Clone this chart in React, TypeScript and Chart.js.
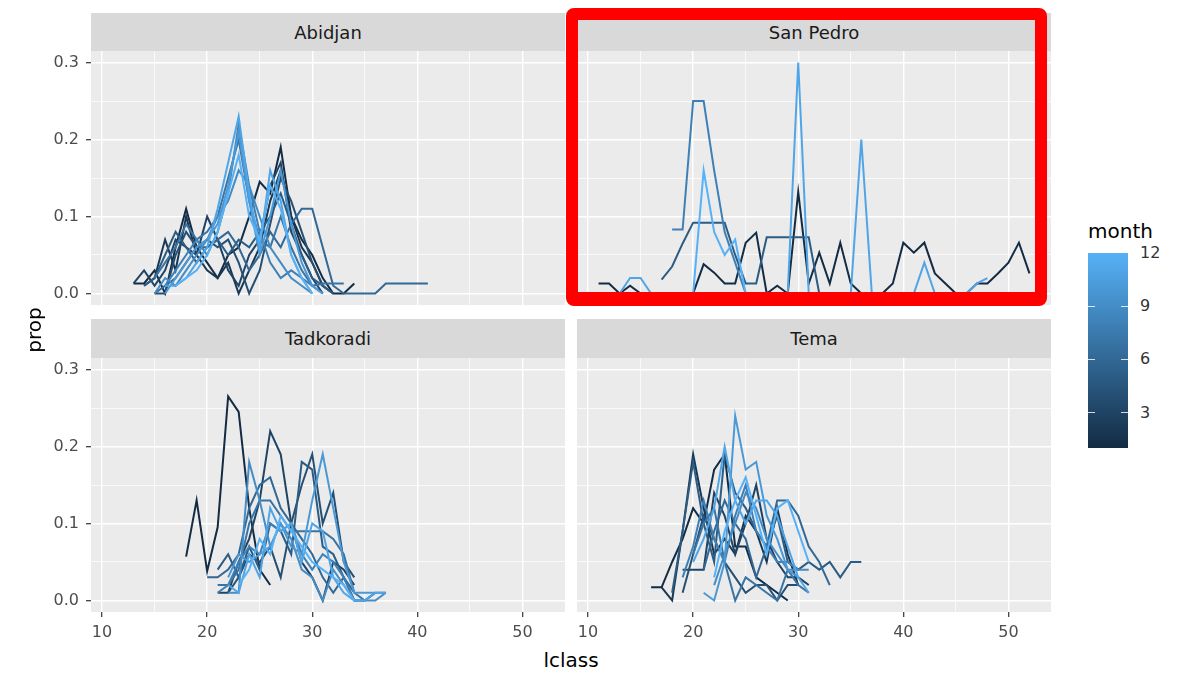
import React, { useEffect, useRef } from "react";
import { Chart, registerables } from "chart.js";

Chart.register(...registerables);

const FONT = "'DejaVu Sans', 'Liberation Sans', sans-serif";

// ---------- data ----------
const xGridValues = [10, 15, 20, 25, 30, 35, 40, 45, 50];
const yGridValues = [0, 0.05, 0.1, 0.15, 0.2, 0.25, 0.3];
const monthBreaks = [3, 6, 9, 12];
const monthRange = [1, 12];

const abidjanMonths = [1, 2, 3, 4, 5, 6, 7, 8, 9, 10, 11, 12];
const abidjanStart = [13, 14, 13, 15, 14, 15, 15, 16, 15, 16, 16, 17];
const abidjanProp = [
  [0.013, 0.013, 0.03, 0, 0.06, 0.11, 0.06, 0.04, 0.02, 0.05, 0.06, 0.1, 0.145, 0.13, 0.19, 0.1, 0.07, 0.05, 0.02, 0, 0, 0.013],
  [0.01, 0.02, 0.07, 0.03, 0.1, 0.05, 0.03, 0.02, 0.04, 0, 0.03, 0.06, 0.12, 0.16, 0.1, 0.06, 0.04, 0.01, 0],
  [0.013, 0.03, 0.01, 0.03, 0.07, 0.06, 0.05, 0.1, 0.07, 0.03, 0.01, 0.05, 0.07, 0.14, 0.17, 0.08, 0.05, 0.02, 0],
  [0, 0, 0.05, 0.08, 0.06, 0.07, 0.06, 0.07, 0.04, 0, 0.03, 0.09, 0.15, 0.12, 0.08, 0.04, 0.01, 0],
  [0.01, 0.02, 0.05, 0.08, 0.06, 0.04, 0.06, 0.07, 0.05, 0.07, 0.06, 0.08, 0.1, 0.13, 0.09, 0.05, 0.02, 0.01, 0],
  [0, 0.01, 0.02, 0.04, 0.06, 0.06, 0.07, 0.08, 0.06, 0.03, 0.05, 0.08, 0.06, 0.09, 0.11, 0.11, 0.06, 0.01, 0, 0, 0, 0, 0.013, 0.013, 0.013, 0.013, 0.013],
  [0.02, 0.04, 0.06, 0.09, 0.07, 0.08, 0.1, 0.15, 0.2, 0.12, 0.07, 0.06, 0.1, 0.06, 0.03, 0.01, 0.013, 0.013, 0.013],
  [0.01, 0.03, 0.05, 0.07, 0.05, 0.08, 0.13, 0.22, 0.14, 0.08, 0.04, 0.02, 0.03, 0.02, 0.01, 0],
  [0, 0.02, 0.01, 0.03, 0.05, 0.07, 0.1, 0.12, 0.16, 0.14, 0.1, 0.06, 0.04, 0.02, 0.01, 0],
  [0, 0.02, 0.04, 0.06, 0.07, 0.09, 0.14, 0.21, 0.12, 0.05, 0.1, 0.16, 0.09, 0.04, 0.01, 0],
  [0.01, 0.01, 0.02, 0.04, 0.06, 0.11, 0.17, 0.23, 0.13, 0.06, 0.16, 0.12, 0.05, 0.02, 0],
  [0.01, 0.02, 0.03, 0.05, 0.08, 0.13, 0.18, 0.1, 0.07, 0.14, 0.11, 0.05, 0.02, 0],
];

const sanPedroMonths = [1, 5, 8, 11, 12];
const sanPedroStart = [11, 17, 18, 13, 19];
const sanPedroProp = [
  [0.013, 0.013, 0, 0.01, 0, 0, 0, 0, 0, 0, 0.038, 0.027, 0.013, 0.013, 0.066, 0.079, 0, 0.01, 0, 0.132, 0.013, 0.053, 0.013, 0.066, 0.013, 0, 0, 0, 0.013, 0.066, 0.053, 0.066, 0.026, 0.013, 0, 0, 0.013, 0.013, 0.026, 0.04, 0.066, 0.026],
  [0.018, 0.035, 0.065, 0.092, 0.092, 0.092, 0.092, 0.05, 0.013, 0.013, 0.073, 0.073, 0.073, 0.073, 0.073, 0],
  [0.083, 0.083, 0.25, 0.25, 0.16, 0.08, 0.04, 0, 0, 0],
  [0, 0.02, 0.02, 0, 0, 0, 0, 0, 0, 0, 0, 0, 0, 0, 0, 0, 0, 0.3, 0, 0, 0, 0, 0, 0.2, 0, 0, 0, 0, 0, 0.04, 0, 0, 0, 0, 0.013, 0.02],
  [0, 0, 0.16, 0.08, 0.05, 0.07, 0, 0, 0],
];

const tadkoradiMonths = [1, 3, 4, 5, 6, 7, 8, 9, 10, 11, 12];
const tadkoradiStart = [18, 21, 22, 21, 20, 21, 21, 22, 22, 22, 23];
const tadkoradiProp = [
  [0.057, 0.13, 0.038, 0.095, 0.265, 0.245, 0.12, 0.04, 0.02],
  [0.01, 0.01, 0.05, 0.08, 0.13, 0.22, 0.19, 0.1, 0.05, 0.03, 0, 0.05, 0.04, 0.02],
  [0.01, 0.03, 0.06, 0.05, 0.07, 0.03, 0.1, 0.15, 0.19, 0.1, 0.14, 0.05, 0.03],
  [0.04, 0.06, 0.03, 0.07, 0.04, 0.1, 0.09, 0.06, 0.18, 0.17, 0.07, 0.06, 0.03, 0, 0, 0.01],
  [0.03, 0.03, 0.04, 0.06, 0.12, 0.15, 0.16, 0.12, 0.1, 0.08, 0.06, 0.03, 0.01, 0.03, 0.01],
  [0.02, 0.02, 0.04, 0.1, 0.13, 0.13, 0.11, 0.09, 0.09, 0.09, 0.09, 0.08, 0.06, 0.01, 0, 0.01, 0.01],
  [0.01, 0.02, 0.05, 0.07, 0.06, 0.1, 0.09, 0.1, 0.06, 0.04, 0.06, 0.05, 0.03, 0],
  [0.01, 0.01, 0.18, 0.13, 0.07, 0.1, 0.08, 0.04, 0.03, 0, 0.04, 0.02, 0, 0, 0, 0.01],
  [0.03, 0.06, 0.05, 0.06, 0.07, 0.1, 0.07, 0.06, 0.13, 0.19, 0.12, 0.05, 0.01, 0.01, 0.01],
  [0.02, 0.01, 0.06, 0.03, 0.12, 0.09, 0.1, 0.05, 0.1, 0.09, 0.03, 0.01, 0, 0, 0.01, 0.01],
  [0.02, 0.04, 0.08, 0.06, 0.11, 0.09, 0.07, 0.05, 0.04, 0.03, 0.02, 0],
];

const temaMonths = [1, 2, 3, 4, 5, 6, 7, 8, 9, 10, 11, 12];
const temaStart = [16, 17, 19, 19, 18, 21, 20, 19, 22, 21, 20, 22];
const temaProp = [
  [0.017, 0.017, 0.05, 0.08, 0.12, 0.1, 0.17, 0.19, 0.07, 0.07, 0.03, 0.02, 0.01, 0],
  [0.017, 0, 0.09, 0.19, 0.12, 0.06, 0.08, 0.06, 0.11, 0.09, 0.05, 0.12, 0.06, 0.02],
  [0.04, 0.04, 0.04, 0.14, 0.11, 0.06, 0.1, 0.15, 0.08, 0.05, 0.03, 0.03, 0.02],
  [0.01, 0.06, 0.11, 0.08, 0.05, 0.03, 0.01, 0.02, 0.02, 0, 0.02, 0.02],
  [0.01, 0.09, 0.18, 0.1, 0.05, 0.19, 0.14, 0.12, 0.09, 0.07, 0.11, 0.05, 0.04, 0.05, 0.04, 0.05, 0.03, 0.05, 0.05],
  [0.04, 0.09, 0.13, 0.1, 0.08, 0.03, 0.07, 0.13, 0.13, 0.11, 0.07, 0.05, 0.02],
  [0.06, 0.1, 0.12, 0.05, 0, 0.03, 0.02, 0.01, 0, 0.04, 0.02, 0.01],
  [0.03, 0.07, 0.13, 0.08, 0.05, 0.11, 0.15, 0.09, 0.07, 0.05, 0.05, 0.04],
  [0.02, 0.06, 0.1, 0.14, 0.12, 0.08, 0.06, 0.04, 0.04, 0.04],
  [0.01, 0, 0.05, 0.24, 0.17, 0.18, 0.11, 0.08, 0.04, 0.03],
  [0.05, 0.08, 0.12, 0.2, 0.13, 0.1, 0.13, 0.13, 0.11, 0.07, 0.03, 0.01],
  [0.03, 0.09, 0.13, 0.16, 0.11, 0.06, 0.12, 0.13, 0.09, 0.05],
];

// ---------- styling helpers ----------
const LOW = [0x13, 0x2b, 0x43];
const HIGH = [0x56, 0xb1, 0xf7];
function monthColor(m: number) {
  const t = (m - monthRange[0]) / (monthRange[1] - monthRange[0]);
  const c = LOW.map((l, i) => Math.round(l + (HIGH[i] - l) * t));
  return `rgb(${c[0]},${c[1]},${c[2]})`;
}
const isMajorX = (v: number) => Math.abs(v / 10 - Math.round(v / 10)) < 1e-6;
const isMajorY = (v: number) => Math.abs(v * 10 - Math.round(v * 10)) < 1e-6;

const panelBg = {
  id: "panelBg",
  beforeDraw(chart: any) {
    const { ctx, chartArea: a } = chart;
    ctx.save();
    ctx.fillStyle = "#EBEBEB";
    ctx.fillRect(a.left, a.top, a.right - a.left, a.bottom - a.top);
    ctx.restore();
  },
};

const PLOT_W = 474;
const PLOT_H = 254;
const Y_AXIS_W = 51;
const X_AXIS_H = 36;

type PanelProps = {
  name: string;
  months: number[];
  starts: number[];
  props: number[][];
  plotLeft: number;
  plotTop: number;
  stripTop: number;
  stripH: number;
  showY: boolean;
  showX: boolean;
};

function Panel(p: PanelProps) {
  const ref = useRef<HTMLCanvasElement>(null);
  const cw = PLOT_W + (p.showY ? Y_AXIS_W : 0);
  const ch = PLOT_H + (p.showX ? X_AXIS_H : 0);
  const cl = p.plotLeft - (p.showY ? Y_AXIS_W : 0);

  useEffect(() => {
    const datasets = p.months.map((m, i) => ({
      label: `month ${m}`,
      data: p.props[i].map((v, j) => ({ x: p.starts[i] + j, y: v })),
      borderColor: monthColor(m),
      backgroundColor: monthColor(m),
      borderWidth: 2,
      pointRadius: 0,
      tension: 0,
      fill: false,
      order: 12 - m,
    }));
    const chart = new Chart(ref.current as HTMLCanvasElement, {
      type: "line",
      data: { datasets },
      plugins: [panelBg],
      options: {
        animation: false,
        responsive: false,
        maintainAspectRatio: false,
        devicePixelRatio: 1,
        layout: { padding: 0, autoPadding: false },
        plugins: { legend: { display: false }, tooltip: { enabled: false }, title: { display: false } },
        scales: {
          x: {
            type: "linear",
            min: 8.95,
            max: 54.05,
            bounds: "data",
            afterBuildTicks: (s: any) => {
              s.ticks = xGridValues.map((v) => ({ value: v }));
            },
            afterFit: (s: any) => {
              s.height = p.showX ? X_AXIS_H : 0;
              s.paddingLeft = 0;
              s.paddingRight = 0;
            },
            border: { display: false },
            grid: {
              color: "#FFFFFF",
              lineWidth: (c: any) => (c.tick && isMajorX(c.tick.value) ? 1.4 : 0.7),
              drawTicks: p.showX,
              tickLength: 5,
              tickWidth: 1.2,
              tickColor: (c: any) => (c.tick && isMajorX(c.tick.value) ? "#333333" : "rgba(0,0,0,0)"),
            },
            ticks: {
              display: p.showX,
              autoSkip: false,
              maxRotation: 0,
              padding: 6,
              color: "#4D4D4D",
              font: { family: FONT, size: 16 },
              callback: (v: any) => (isMajorX(Number(v)) ? String(v) : ""),
            },
          },
          y: {
            type: "linear",
            min: -0.015,
            max: 0.315,
            bounds: "data",
            afterBuildTicks: (s: any) => {
              s.ticks = yGridValues.map((v) => ({ value: v }));
            },
            afterFit: (s: any) => {
              s.width = p.showY ? Y_AXIS_W : 0;
              s.paddingTop = 0;
              s.paddingBottom = 0;
            },
            border: { display: false },
            grid: {
              color: "#FFFFFF",
              lineWidth: (c: any) => (c.tick && isMajorY(c.tick.value) ? 1.4 : 0.7),
              drawTicks: p.showY,
              tickLength: 5,
              tickWidth: 1.2,
              tickColor: (c: any) => (c.tick && isMajorY(c.tick.value) ? "#333333" : "rgba(0,0,0,0)"),
            },
            ticks: {
              display: p.showY,
              autoSkip: false,
              padding: 7,
              color: "#4D4D4D",
              font: { family: FONT, size: 16 },
              callback: (v: any) => (isMajorY(Number(v)) ? Number(v).toFixed(1) : ""),
            },
          },
        },
      } as any,
    });
    return () => chart.destroy();
  }, []);

  return (
    <>
      <div
        style={{
          position: "absolute",
          left: p.plotLeft,
          top: p.stripTop,
          width: PLOT_W,
          height: p.stripH,
          background: "#D9D9D9",
          color: "#1A1A1A",
          fontFamily: FONT,
          fontSize: 18,
          display: "flex",
          alignItems: "center",
          justifyContent: "center",
        }}
      >
        {p.name}
      </div>
      <canvas
        ref={ref}
        width={cw}
        height={ch}
        style={{ position: "absolute", left: cl, top: p.plotTop, width: cw, height: ch }}
      />
    </>
  );
}

function ColorBar() {
  const barLeft = 1088;
  const barTop = 253;
  const barW = 40;
  const barH = 195;
  const yOf = (m: number) => barTop + ((monthRange[1] - m) / (monthRange[1] - monthRange[0])) * barH;
  return (
    <>
      <div style={{ position: "absolute", left: 1088, top: 221, fontFamily: FONT, fontSize: 20, lineHeight: "20px", color: "#000" }}>
        month
      </div>
      <div
        style={{
          position: "absolute",
          left: barLeft,
          top: barTop,
          width: barW,
          height: barH,
          background: `linear-gradient(to top, ${monthColor(monthRange[0])}, ${monthColor(monthRange[1])})`,
        }}
      />
      {monthBreaks
        .filter((m) => m < monthRange[1])
        .map((m) => (
          <React.Fragment key={"t" + m}>
            <div style={{ position: "absolute", left: barLeft, top: yOf(m) - 0.5, width: 7, height: 1, background: "rgba(255,255,255,0.8)" }} />
            <div style={{ position: "absolute", left: barLeft + barW - 7, top: yOf(m) - 0.5, width: 7, height: 1, background: "rgba(255,255,255,0.8)" }} />
          </React.Fragment>
        ))}
      {monthBreaks.map((m) => (
        <div
          key={"l" + m}
          style={{ position: "absolute", left: 1140, top: yOf(m) - 9, fontFamily: FONT, fontSize: 16, lineHeight: "18px", color: "#333" }}
        >
          {m}
        </div>
      ))}
    </>
  );
}

export default function App() {
  useEffect(() => {
    document.body.style.margin = "0";
  }, []);
  return (
    <div style={{ position: "fixed", left: 0, top: 0, width: 1183, height: 673, background: "#FFFFFF", overflow: "hidden" }}>
      <Panel name="Abidjan" months={abidjanMonths} starts={abidjanStart} props={abidjanProp} plotLeft={91} plotTop={51} stripTop={13} stripH={38} showY={true} showX={false} />
      <Panel name="San Pedro" months={sanPedroMonths} starts={sanPedroStart} props={sanPedroProp} plotLeft={577} plotTop={51} stripTop={13} stripH={38} showY={false} showX={false} />
      <Panel name="Tadkoradi" months={tadkoradiMonths} starts={tadkoradiStart} props={tadkoradiProp} plotLeft={91} plotTop={358} stripTop={319} stripH={39} showY={true} showX={true} />
      <Panel name="Tema" months={temaMonths} starts={temaStart} props={temaProp} plotLeft={577} plotTop={358} stripTop={319} stripH={39} showY={false} showX={true} />

      <div style={{ position: "absolute", left: 471, width: 200, top: 650, textAlign: "center", fontFamily: FONT, fontSize: 20, lineHeight: "20px", color: "#000" }}>
        lclass
      </div>
      <div
        style={{
          position: "absolute",
          left: 34 - 50,
          top: 330 - 10,
          width: 100,
          height: 20,
          textAlign: "center",
          fontFamily: FONT,
          fontSize: 20,
          lineHeight: "20px",
          color: "#000",
          transform: "rotate(-90deg)",
        }}
      >
        prop
      </div>

      <ColorBar />

      <div
        style={{
          position: "absolute",
          left: 566,
          top: 8,
          width: 481,
          height: 298,
          borderStyle: "solid",
          borderColor: "#FF0000",
          borderWidth: "12px 12px 14px 12px",
          borderRadius: 8,
          boxSizing: "border-box",
          pointerEvents: "none",
        }}
      />
    </div>
  );
}
